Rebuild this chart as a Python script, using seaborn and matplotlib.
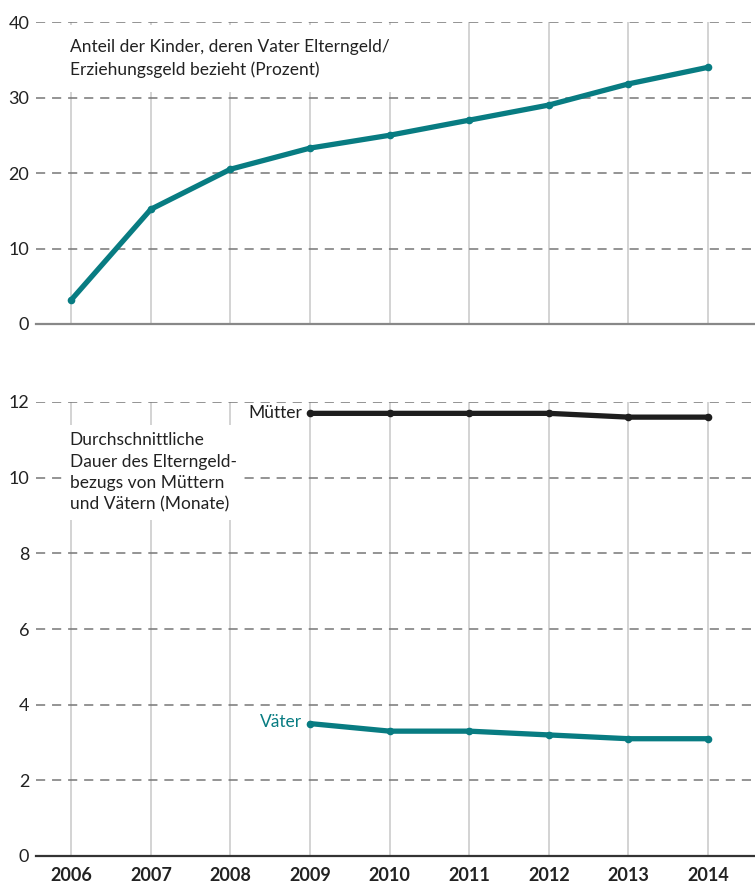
import numpy as np
import pandas as pd
import matplotlib
matplotlib.use("Agg")
import matplotlib.pyplot as plt
import seaborn as sns

# data
years = [2006, 2007, 2008, 2009, 2010, 2011, 2012, 2013, 2014]
anteil_vater = [3.2, 15.2, 20.5, 23.3, 25.0, 27.0, 29.0, 31.8, 34.0]

dauer_years = [2009, 2010, 2011, 2012, 2013, 2014]
dauer_muetter = [11.7, 11.7, 11.7, 11.7, 11.6, 11.6]
dauer_vaeter = [3.5, 3.3, 3.3, 3.2, 3.1, 3.1]

top_title = "Anteil der Kinder, deren Vater Elterngeld/\nErziehungsgeld bezieht (Prozent)"
bottom_title = "Durchschnittliche\nDauer des Elterngeld-\nbezugs von Müttern\nund Vätern (Monate)"

TEAL = "#087c82"
DARK = "#1e1e1e"
GRID = "#777777"

sns.set_style("white")
plt.rcParams["font.family"] = ["Lato", "DejaVu Sans"]

fig = plt.figure(figsize=(7.55, 8.86), dpi=100)
ax_top = fig.add_axes([0.048, 1 - 324 / 886, 0.952, 302 / 886])
ax_bot = fig.add_axes([0.048, 1 - 856 / 886, 0.952, 454 / 886])

top_df = pd.DataFrame({"Jahr": years, "Wert": anteil_vater})
dauer_df = pd.DataFrame({
    "Jahr": dauer_years * 2,
    "Wert": dauer_muetter + dauer_vaeter,
    "Gruppe": ["Mütter"] * len(dauer_years) + ["Väter"] * len(dauer_years),
})

sns.lineplot(data=top_df, x="Jahr", y="Wert", ax=ax_top, color=TEAL, lw=3.8,
             marker="o", markersize=5.5, markeredgewidth=0, zorder=5)
sns.lineplot(data=dauer_df, x="Jahr", y="Wert", hue="Gruppe", ax=ax_bot,
             palette={"Mütter": DARK, "Väter": TEAL}, lw=3.8, marker="o",
             markersize=5.5, markeredgewidth=0, legend=False, zorder=5)


def style_axis(ax, yticks, ymax, base_color):
    ax.set_xlim(2005.56, 2014.59)
    ax.set_ylim(0, ymax)
    ax.set_xlabel("")
    ax.set_ylabel("")
    ax.set_yticks(yticks)
    ax.set_xticks(years)
    for sp in ["top", "right", "left"]:
        ax.spines[sp].set_visible(False)
    ax.spines["bottom"].set_color(base_color)
    ax.spines["bottom"].set_linewidth(1.6)
    ax.tick_params(axis="y", direction="in", length=15, width=1.2, color=GRID,
                   labelsize=13, labelcolor="#222222", pad=5)
    ax.tick_params(axis="x", length=0)
    for y in yticks[1:]:
        # the topmost dashed line stays above the label box
        z = 7 if y == yticks[-1] else 1
        ax.axhline(y, color=GRID, lw=1.1, ls=(0, (6, 4.5)), zorder=z)
    for x in years:
        ax.axvline(x, color="#cccccc", lw=1.2, zorder=0)
    ax.set_facecolor("white")


style_axis(ax_top, [0, 10, 20, 30, 40], 40, "#888888")
style_axis(ax_bot, [0, 2, 4, 6, 8, 10, 12], 12, "#333333")
ax_top.set_xticklabels([])
ax_bot.set_xticklabels([str(y) for y in years], fontsize=13,
                       fontweight="bold", color="#222222")
ax_bot.tick_params(axis="x", pad=8)

ax_top.text(2005.98, 37.7, top_title, fontsize=12.5, color="#222222",
            va="top", ha="left", linespacing=1.45, zorder=6,
            bbox=dict(facecolor="white", edgecolor="none", pad=10))
ax_bot.text(2005.98, 11.2, bottom_title, fontsize=12.5, color="#222222",
            va="top", ha="left", linespacing=1.42, zorder=6,
            bbox=dict(facecolor="white", edgecolor="none", pad=5))

ax_bot.text(2008.9, dauer_muetter[0], "Mütter", fontsize=12.5, color=DARK,
            ha="right", va="center")
ax_bot.text(2008.9, dauer_vaeter[0] + 0.05, "Väter", fontsize=12.5, color=TEAL,
            ha="right", va="center")

fig.savefig("out.png", dpi=100)
